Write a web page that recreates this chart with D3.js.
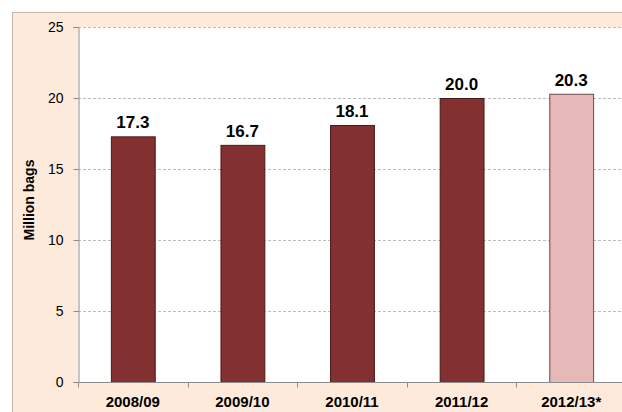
<!DOCTYPE html>
<html>
<head>
<meta charset="utf-8">
<script src="https://cdn.jsdelivr.net/npm/d3@7"></script>
<style>
  body { margin: 0; background: #fff; }
  text { font-family: "Liberation Sans", Arial, sans-serif; }
</style>
</head>
<body>
<script>
// chart values
var seasons = ["2008/09", "2009/10", "2010/11", "2011/12", "2012/13*"];
var bags = [17.3, 16.7, 18.1, 20.0, 20.3];
var estimate = [false, false, false, false, true];
var yTicks = [0, 5, 10, 15, 20, 25];

var W = 622, H = 412;
var margin = {top: 27, left: 78, bottom: 30};
var plotW = 548, plotH = 355;

var svg = d3.select("body").append("svg")
    .attr("width", W)
    .attr("height", H);

// outer chart area (runs off the right and bottom edges)
svg.append("rect")
    .attr("x", 12.5).attr("y", 12.5)
    .attr("width", 660).attr("height", 440)
    .attr("fill", "#FDEADA")
    .attr("stroke", "#C6B7AA");

var g = svg.append("g")
    .attr("transform", "translate(" + margin.left + "," + margin.top + ")");

g.append("rect")
    .attr("width", plotW).attr("height", plotH)
    .attr("fill", "#fff");

var x = d3.scaleBand().domain(seasons).range([0, plotW]).paddingInner(0.6).paddingOuter(0.3);
var y = d3.scaleLinear().domain([0, 25]).range([plotH, 0]);

// gridlines
g.append("g").selectAll("line")
    .data(yTicks.filter(function(d){ return d > 0; }))
    .enter().append("line")
    .attr("x1", 0).attr("x2", plotW)
    .attr("y1", function(d){ return Math.round(y(d)) + 0.5; })
    .attr("y2", function(d){ return Math.round(y(d)) + 0.5; })
    .attr("stroke", "#BDBDBD")
    .attr("stroke-dasharray", "3,2");

// bars
g.append("g").selectAll("rect")
    .data(bags)
    .enter().append("rect")
    .attr("x", function(d, i){ return x(seasons[i]) + 0.5; })
    .attr("y", function(d){ return y(d) + 0.5; })
    .attr("width", x.bandwidth())
    .attr("height", function(d){ return plotH - y(d); })
    .attr("fill", function(d, i){ return estimate[i] ? "#E6B8B7" : "#833030"; })
    .attr("stroke", function(d, i){ return estimate[i] ? "#6B4A4A" : "#4A1818"; })
    .attr("stroke-width", 1);

// value labels
g.append("g").selectAll("text")
    .data(bags)
    .enter().append("text")
    .attr("x", function(d, i){ return x(seasons[i]) + x.bandwidth() / 2; })
    .attr("y", function(d){ return y(d) - 8; })
    .attr("text-anchor", "middle")
    .style("font-size", "17px")
    .style("font-weight", "bold")
    .text(function(d){ return d.toFixed(1); });

// y axis
var yAxis = g.append("g")
    .attr("transform", "translate(0.5,0)")
    .call(d3.axisLeft(y).tickValues(yTicks).tickSize(5).tickPadding(10));
yAxis.select(".domain").attr("stroke", "#8C8C8C");
yAxis.selectAll(".tick line").attr("stroke", "#8C8C8C");
yAxis.selectAll(".tick text")
    .style("font-size", "14px")
    .attr("fill", "#000");

// x axis with ticks between categories
var xAxis = g.append("g")
    .attr("transform", "translate(0," + (plotH + 0.5) + ")");
xAxis.append("line")
    .attr("x1", 0).attr("x2", plotW)
    .attr("stroke", "#8C8C8C");
var step = x.step();
xAxis.selectAll(".sep")
    .data(seasons)
    .enter().append("line")
    .attr("class", "sep")
    .attr("x1", function(d, i){ return Math.round(x(d) - step * 0.3) + 0.5; })
    .attr("x2", function(d, i){ return Math.round(x(d) - step * 0.3) + 0.5; })
    .attr("y1", 0).attr("y2", 5)
    .attr("stroke", "#8C8C8C");
xAxis.selectAll(".lbl")
    .data(seasons)
    .enter().append("text")
    .attr("x", function(d){ return x(d) + x.bandwidth() / 2; })
    .attr("y", 24)
    .attr("text-anchor", "middle")
    .style("font-size", "15px")
    .style("font-weight", "bold")
    .text(function(d){ return d; });

// y axis title
svg.append("text")
    .attr("transform", "translate(34,200) rotate(-90)")
    .attr("text-anchor", "middle")
    .style("font-size", "14px")
    .style("font-weight", "bold")
    .text("Million bags");
</script>
</body>
</html>
